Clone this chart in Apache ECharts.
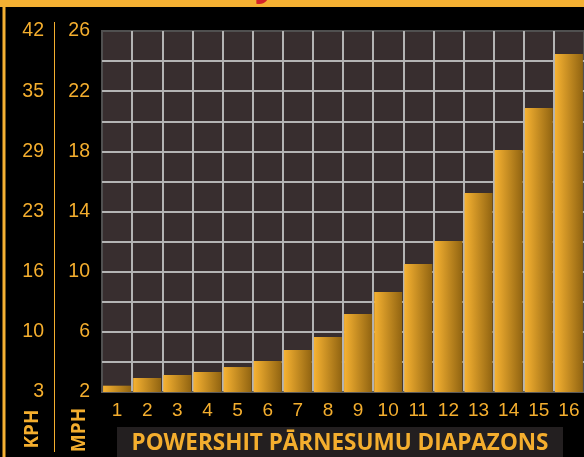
<!DOCTYPE html>
<html>
<head>
<meta charset="utf-8">
<script src="https://cdn.jsdelivr.net/npm/echarts@6/dist/echarts.min.js"></script>
<style>
  html, body { margin: 0; padding: 0; background: #000; }
  #chart { width: 584px; height: 457px; }
</style>
</head>
<body>
<div id="chart"></div>
<script>
// gears and top speed in mph
var gears = ['1','2','3','4','5','6','7','8','9','10','11','12','13','14','15','16'];
var mphValues = [2.42, 2.93, 3.13, 3.33, 3.66, 4.06, 4.79, 5.66, 7.19, 8.65, 10.51, 12.04, 15.23, 18.09, 20.88, 24.47];
// labelled ticks on the two left scales
var mphTicks = [2, 6, 10, 14, 18, 22, 26];
var kphLabels = ['3', '10', '16', '23', '29', '35', '42'];
var xTitle = 'POWERSHIT PĀRNESUMU DIAPAZONS';

var orange = '#f4ae2e';
var myChart = echarts.init(document.getElementById('chart'));

function tickLabel(labels) {
    return function (v) {
        var i = mphTicks.indexOf(v);
        return i < 0 ? '' : labels[i];
    };
}

var option = {
    backgroundColor: '#000',
    animation: false,
    grid: {
        left: 102,
        top: 31,
        width: 483,
        height: 361,
        show: true,
        backgroundColor: '#382e2f',
        borderColor: '#505050',
        borderWidth: 2
    },
    xAxis: {
        type: 'category',
        data: gears,
        axisLine: { show: true, lineStyle: { color: '#5a5a5a', width: 2 } },
        axisTick: { show: false },
        axisLabel: {
            color: orange,
            fontSize: 19,
            fontFamily: 'Liberation Sans',
            margin: 9
        },
        splitLine: {
            show: true,
            showMinLine: false,
            showMaxLine: false,
            lineStyle: { color: '#b4b4b4', width: 2 }
        }
    },
    yAxis: [{
        type: 'value',
        position: 'left',
        min: 2,
        max: 26,
        interval: 2,
        axisLine: { show: false },
        axisTick: { show: false },
        axisLabel: {
            color: orange,
            fontSize: 19.5,
            fontFamily: 'Liberation Sans',
            margin: 12,
            formatter: tickLabel(mphTicks.map(String))
        },
        splitLine: {
            show: true,
            showMinLine: false,
            showMaxLine: false,
            lineStyle: { color: '#b4b4b4', width: 2 }
        }
    }, {
        type: 'value',
        position: 'left',
        offset: 46,
        min: 2,
        max: 26,
        interval: 2,
        axisLine: { show: false },
        axisTick: { show: false },
        splitLine: { show: false },
        axisLabel: {
            color: orange,
            fontSize: 19.5,
            fontFamily: 'Liberation Sans',
            margin: 12,
            formatter: tickLabel(kphLabels)
        }
    }],
    graphic: [
        { type: 'rect', shape: { x: 0, y: 0, width: 584, height: 7 }, style: { fill: '#f5b133' } },
        { type: 'text', x: 255, y: -36, style: { text: 'y', fill: '#d4232a', font: 'bold 40px "Open Sans"' } },
        { type: 'rect', shape: { x: 2.5, y: 7, width: 3, height: 450 }, style: { fill: '#f5b133' } },
        { type: 'line', shape: { x1: 54.5, y1: 22, x2: 54.5, y2: 452 }, style: { stroke: orange, lineWidth: 1 } },
        { type: 'text', x: 33, y: 429, rotation: Math.PI / 2,
          style: { text: 'KPH', fill: orange, font: 'bold 19px "Open Sans"', align: 'center', verticalAlign: 'middle' } },
        { type: 'text', x: 80, y: 430, rotation: Math.PI / 2,
          style: { text: 'MPH', fill: orange, font: 'bold 19px "Open Sans"', align: 'center', verticalAlign: 'middle' } },
        { type: 'rect', shape: { x: 117, y: 427, width: 446, height: 30 }, style: { fill: '#231f20' } },
        { type: 'text', x: 340, y: 444, style: { text: xTitle, fill: orange, font: 'bold 22.5px "Open Sans"', align: 'center', verticalAlign: 'middle' } }
    ],
    series: [{
        type: 'bar',
        data: mphValues,
        yAxisIndex: 0,
        barWidth: 28,
        itemStyle: {
            color: new echarts.graphic.LinearGradient(0, 0, 1, 0, [
                { offset: 0, color: '#f6b232' },
                { offset: 1, color: '#916411' }
            ])
        }
    }]
};

myChart.setOption(option);
</script>
</body>
</html>
